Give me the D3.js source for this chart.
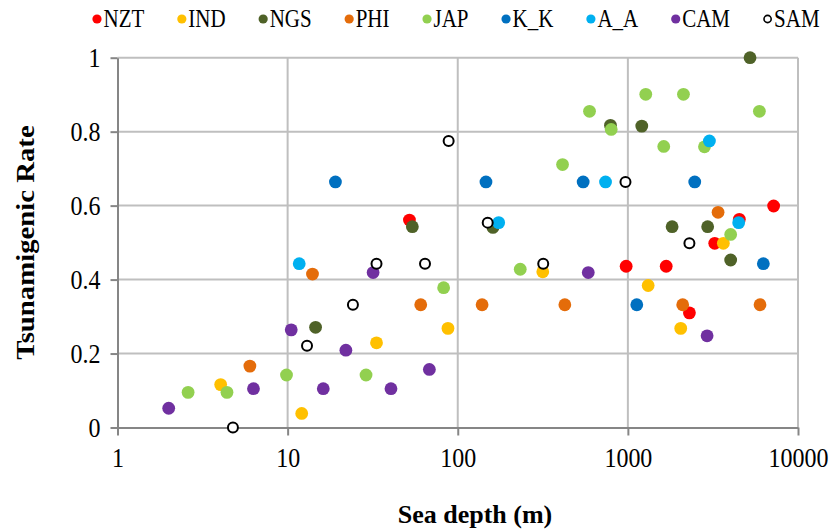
<!DOCTYPE html>
<html>
  <head>
    <meta charset="utf-8">
    <title>Tsunamigenic rate vs sea depth</title>
    <style>
      body{ margin:0; background:#fff; }
      svg{ display:block; font-family:"Liberation Serif","Times New Roman",serif; }
    </style>
  </head>
  <body>
    <svg id="chart" width="832" height="531"></svg>
  </body>
  <script src="https://d3js.org/d3.v7.min.js"></script>
  <script>
    // series names and colours
    var seriesNames = ["NZT","IND","NGS","PHI","JAP","K_K","A_A","CAM","SAM"]
    var seriesColors = ["#FF0000","#FFC000","#4F6228","#E46C0A","#92D050","#0070C0","#00B0F0","#7030A0","none"]

    // values: sea depth (m) and tsunamigenic rate
    var nztDepth = [52, 977, 1680, 2300, 3240, 4520, 7190]
    var nztRate  = [0.561, 0.436, 0.436, 0.310, 0.498, 0.563, 0.599]
    var indDepth = [4.04, 12.1, 33.3, 87.6, 316, 1316, 2045, 3641]
    var indRate  = [0.116, 0.038, 0.229, 0.268, 0.421, 0.384, 0.268, 0.498]
    var ngsDepth = [14.6, 54.1, 161, 790, 1207, 5225, 1820, 2944, 4020]
    var ngsRate  = [0.271, 0.543, 0.541, 0.817, 0.815, 1.0, 0.543, 0.543, 0.453]
    var phiDepth = [6.0, 14.0, 60.6, 139, 426, 2100, 5980, 3390]
    var phiRate  = [0.166, 0.415, 0.332, 0.332, 0.332, 0.332, 0.332, 0.582]
    var japDepth = [2.6, 4.4, 9.85, 28.9, 82.6, 233, 413, 595, 798, 1274, 1625, 2122, 2820, 5930, 4020]
    var japRate  = [0.095, 0.095, 0.142, 0.142, 0.378, 0.428, 0.711, 0.855, 0.806, 0.901, 0.760, 0.901, 0.759, 0.855, 0.522]
    var kkDepth  = [19.1, 146.5, 546, 2472, 1128, 6256]
    var kkRate   = [0.664, 0.664, 0.664, 0.664, 0.332, 0.443]
    var aaDepth  = [11.7, 174, 739, 3015, 4480]
    var aaRate   = [0.443, 0.554, 0.664, 0.775, 0.554]
    var camDepth = [2.0, 6.3, 10.5, 16.2, 22.0, 31.8, 40.5, 68.1, 585, 2922]
    var camRate  = [0.052, 0.105, 0.264, 0.105, 0.209, 0.419, 0.105, 0.157, 0.419, 0.248]
    var samDepth = [4.77, 13.0, 24.2, 33.3, 64.2, 88.4, 150, 318, 968, 2300]
    var samRate  = [0, 0.221, 0.332, 0.443, 0.443, 0.775, 0.554, 0.443, 0.664, 0.498]

    var xTicks = [1, 10, 100, 1000, 10000]
    var yTicks = [0, 0.2, 0.4, 0.6, 0.8, 1]

    var depths = [nztDepth, indDepth, ngsDepth, phiDepth, japDepth, kkDepth, aaDepth, camDepth, samDepth]
    var rates  = [nztRate, indRate, ngsRate, phiRate, japRate, kkRate, aaRate, camRate, samRate]

    var series = seriesNames.map(function(name, i){
      return {
        name: name,
        color: seriesColors[i],
        points: depths[i].map(function(d, j){ return {x: d, y: rates[i][j]} })
      }
    })

    var svg = d3.select("#chart")
    var plotL = 117.5, plotR = 798, plotT = 57.7, plotB = 427.5
    var tall = 1.15 // the original picture's text is a bit stretched vertically

    var x = d3.scaleLog().domain([1, 10000]).range([plotL, plotR])
    var y = d3.scaleLinear().domain([0, 1]).range([plotB, plotT])

    // stretch a text vertically about its own y
    function stretch(sel, k){
      sel.each(function(){
        var t = d3.select(this)
        var yy = +t.attr("y") || 0
        t.attr("y", 0).attr("transform", "translate(0," + yy + ") scale(1," + k + ")")
      })
    }

    // gridlines
    var grid = svg.append("g")
    grid.selectAll("line.h").data(yTicks.slice(1)).enter().append("line")
      .attr("x1", plotL).attr("x2", plotR)
      .attr("y1", function(d){ return y(d) }).attr("y2", function(d){ return y(d) })
      .attr("stroke", "#BFBFBF").attr("stroke-width", 2)
    grid.selectAll("line.v").data(xTicks.slice(1)).enter().append("line")
      .attr("y1", plotT).attr("y2", plotB)
      .attr("x1", function(d){ return x(d) }).attr("x2", function(d){ return x(d) })
      .attr("stroke", "#BFBFBF").attr("stroke-width", 2)

    // axes
    var xAxis = svg.append("g").attr("transform", "translate(0," + plotB + ")")
      .call(d3.axisBottom(x).tickValues(xTicks).tickFormat(d3.format("d")).tickSizeInner(8).tickSizeOuter(0).tickPadding(12))
    var yAxis = svg.append("g").attr("transform", "translate(" + plotL + ",0)")
      .call(d3.axisLeft(y).tickValues(yTicks).tickFormat(function(d){ return d === 0 || d === 1 ? d : d.toFixed(1) }).tickSizeInner(7).tickSizeOuter(0).tickPadding(10))
    ;[xAxis, yAxis].forEach(function(a){
      a.select(".domain").attr("stroke", "#868686").attr("stroke-width", 2)
      a.selectAll(".tick line").attr("stroke", "#868686").attr("stroke-width", 2)
      a.selectAll(".tick text").attr("fill", "#000")
        .style("font-family", "'Liberation Serif','Times New Roman',serif").style("font-size", "24px")
        .call(stretch, tall)
    })

    // points
    series.forEach(function(s){
      svg.append("g").selectAll("circle").data(s.points).enter().append("circle")
        .attr("cx", function(d){ return x(d.x) })
        .attr("cy", function(d){ return y(d.y) })
        .attr("r", s.name === "SAM" ? 5 : 6.4)
        .attr("fill", s.name === "SAM" ? "#fff" : s.color)
        .attr("stroke", s.name === "SAM" ? "#000" : "none")
        .attr("stroke-width", 2)
    })

    // legend
    var lx = 92.5
    series.forEach(function(s){
      var g = svg.append("g").attr("transform", "translate(" + lx + ",19)")
      g.append("circle").attr("cx", 4.5).attr("cy", 0)
        .attr("r", s.name === "SAM" ? 3.6 : 4.6)
        .attr("fill", s.name === "SAM" ? "#fff" : s.color)
        .attr("stroke", s.name === "SAM" ? "#000" : "none")
        .attr("stroke-width", 1.6)
      var t = g.append("text").attr("x", 11).attr("y", 7.5)
        .style("font-size", "21px").text(s.name)
      lx += 11 + t.node().getComputedTextLength() + 33
      t.call(stretch, tall)
    })

    // axis titles
    svg.append("text").attr("x", 475).attr("y", 523)
      .attr("text-anchor", "middle").style("font-size", "26px").style("font-weight", "bold")
      .text("Sea depth (m)")
    svg.append("text").attr("transform", "translate(34," + ((plotT + plotB) / 2) + ") rotate(-90) scale(" + tall + ",1)")
      .attr("text-anchor", "middle").style("font-size", "25px").style("font-weight", "bold")
      .text("Tsunamigenic Rate")
  </script>
</html>
